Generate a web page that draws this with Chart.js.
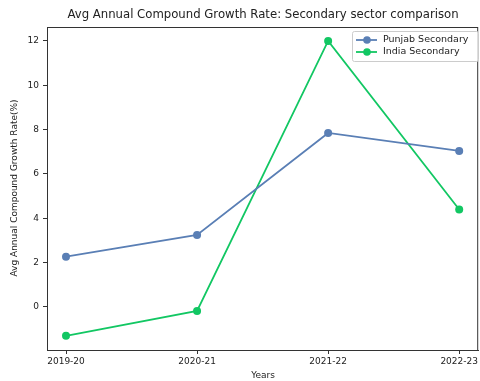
<!DOCTYPE html>
<html>
<head>
<meta charset="utf-8">
<script src="https://cdn.jsdelivr.net/npm/chart.js@4/dist/chart.umd.min.js"></script>
<style>
  html, body { margin: 0; padding: 0; background: #fff; }
  #wrap { width: 480px; height: 381px; }
</style>
</head>
<body>
<div id="wrap"><canvas id="growthChart" width="480" height="381"></canvas></div>
<script>
const years = ['2019-20', '2020-21', '2021-22', '2022-23'];
const punjabSecondary = [2.27, 3.25, 7.85, 7.04];
const indiaSecondary = [-1.3, -0.18, 12.0, 4.4];
const yTicks = [0, 2, 4, 6, 8, 10, 12];

const font = "'DejaVu Sans', sans-serif";
const toPoints = values => values.map((v, i) => ({ x: i, y: v }));

// titles and the axes frame, drawn matplotlib-style
const frameAndTitles = {
    id: 'frameAndTitles',
    afterDraw(chart) {
        const { ctx, chartArea: a } = chart;
        ctx.save();
        ctx.strokeStyle = '#333';
        ctx.lineWidth = 1;
        ctx.strokeRect(a.left + 0.5, a.top + 0.5, a.right - a.left - 1, a.bottom - a.top);
        ctx.fillStyle = '#222';
        ctx.textAlign = 'center';
        ctx.textBaseline = 'middle';
        ctx.font = '11.7px ' + font;
        ctx.fillText('Avg Annual Compound Growth Rate: Secondary sector comparison', 263, 15);
        ctx.font = '9px ' + font;
        ctx.fillText('Years', 263, 376);
        ctx.translate(15, 188);
        ctx.rotate(-Math.PI / 2);
        ctx.fillText('Avg Annual Compound Growth Rate(%)', 0, 0);
        ctx.restore();
    }
};

const chart = new Chart('growthChart', {
    type: 'line',
    data: {
        datasets: [{
            label: 'Punjab Secondary',
            data: toPoints(punjabSecondary),
            borderColor: '#5a7fb5',
            backgroundColor: '#5a7fb5',
            borderWidth: 1.8,
            pointRadius: 4,
            pointBorderWidth: 0,
            pointHoverRadius: 4
        }, {
            label: 'India Secondary',
            data: toPoints(indiaSecondary),
            borderColor: '#12c763',
            backgroundColor: '#12c763',
            borderWidth: 1.8,
            pointRadius: 4,
            pointBorderWidth: 0,
            pointHoverRadius: 4
        }]
    },
    options: {
        responsive: false,
        animation: false,
        layout: { autoPadding: false, padding: { top: 27, right: -2, left: 0, bottom: 0 } },
        plugins: {
            legend: { display: false },
            tooltip: { enabled: false }
        },
        scales: {
            x: {
                type: 'linear',
                min: -0.145,
                max: 3.145,
                afterBuildTicks: scale => { scale.ticks = years.map((y, i) => ({ value: i })); },
                afterFit: scale => { scale.height = 31; },
                ticks: {
                    callback: v => years[v],
                    color: '#222',
                    font: { family: font, size: 9 },
                    padding: 2,
                    maxRotation: 0,
                    autoSkip: false
                },
                grid: { drawOnChartArea: false, drawTicks: true, tickLength: 4, tickColor: '#333' },
                border: { color: '#333' }
            },
            y: {
                min: -1.94,
                max: 12.63,
                afterBuildTicks: scale => { scale.ticks = yTicks.map(v => ({ value: v })); },
                afterFit: scale => { scale.width = 47; },
                ticks: {
                    color: '#222',
                    font: { family: font, size: 9 },
                    padding: 4
                },
                grid: { drawOnChartArea: false, drawTicks: true, tickLength: 4, tickColor: '#333' },
                border: { color: '#333' }
            }
        }
    },
    plugins: [frameAndTitles, {
        // legend box in the upper right corner
        id: 'cornerLegend',
        afterDraw(chart) {
            const { ctx } = chart;
            const x = 352, y = 31, w = 126, h = 30;
            ctx.save();
            ctx.fillStyle = 'rgba(255,255,255,0.8)';
            ctx.strokeStyle = '#ccc';
            ctx.lineWidth = 1;
            ctx.beginPath();
            ctx.roundRect(x + 0.5, y + 0.5, w, h, 2);
            ctx.fill();
            ctx.stroke();
            ctx.font = '9.5px ' + font;
            ctx.textBaseline = 'middle';
            ctx.textAlign = 'left';
            chart.data.datasets.forEach((ds, i) => {
                const ly = y + 9 + i * 12;
                ctx.strokeStyle = ds.borderColor;
                ctx.fillStyle = ds.borderColor;
                ctx.lineWidth = 1.8;
                ctx.beginPath();
                ctx.moveTo(x + 4, ly);
                ctx.lineTo(x + 25, ly);
                ctx.stroke();
                ctx.beginPath();
                ctx.arc(x + 15, ly, 3.8, 0, Math.PI * 2);
                ctx.fill();
                ctx.fillStyle = '#222';
                ctx.fillText(ds.label, x + 31, ly);
            });
            ctx.restore();
        }
    }]
});
</script>
</body>
</html>
